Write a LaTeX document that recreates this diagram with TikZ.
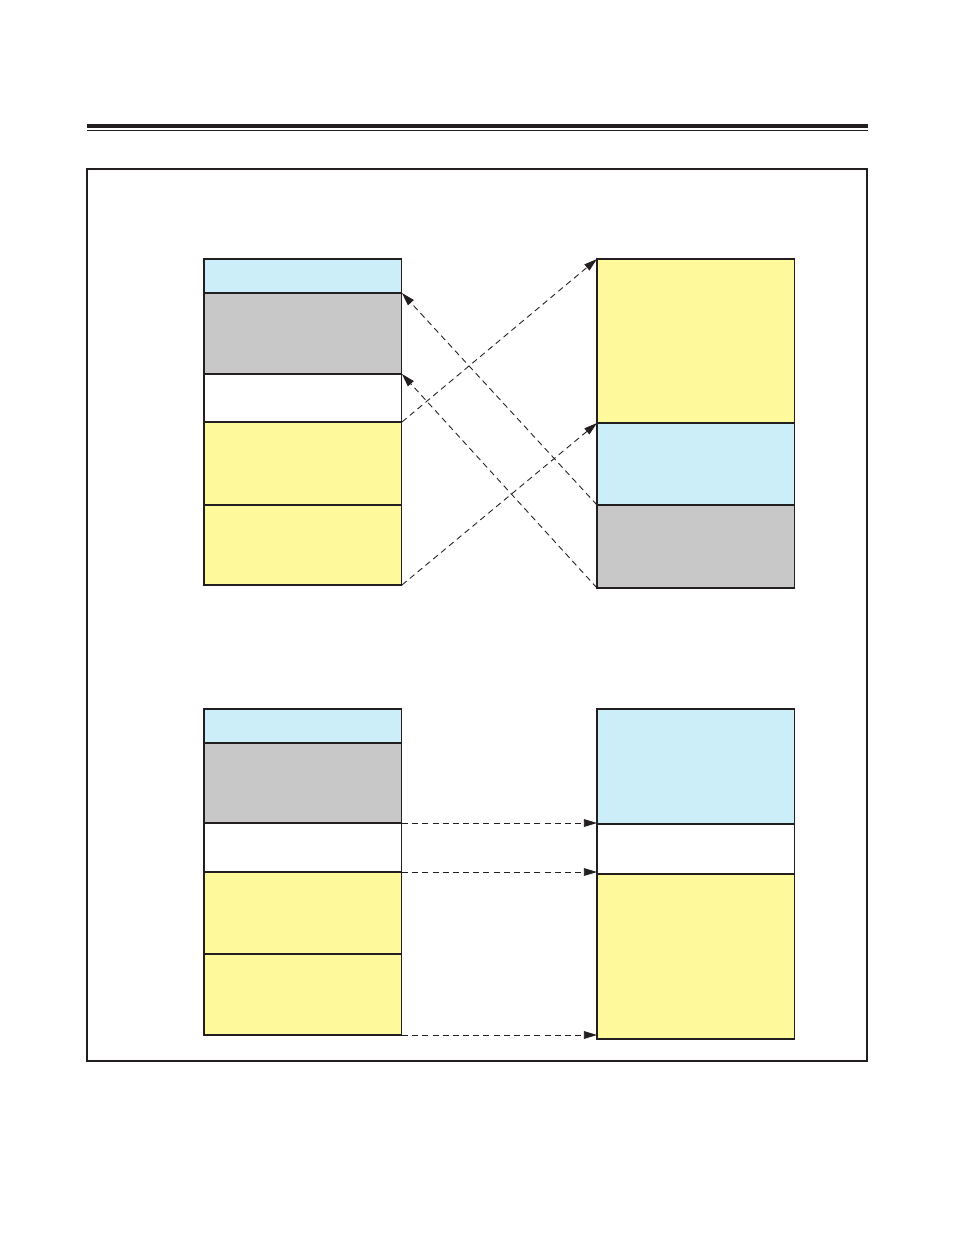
\documentclass[tikz,border=0pt]{standalone}
\usepackage{xcolor}
\usepackage{tikz}
\usetikzlibrary{arrows.meta}
\definecolor{lblue}{HTML}{CCEEF9}
\definecolor{lgrey}{HTML}{C8C8C8}
\definecolor{lyellow}{HTML}{FEF99A}
\definecolor{ink}{HTML}{231F20}

\begin{document}
\begin{tikzpicture}[x=0.02cm,y=-0.02cm,
    blk/.style={draw=ink,line width=0.6pt,anchor=north west,inner sep=0,outer sep=0,minimum width=3.96cm},
    lnk/.style={-{Triangle[length=7.5pt,width=4.4pt]},draw=ink,line width=0.5pt,dash pattern=on 3.4pt off 2.4pt}]
    \useasboundingbox (0,0) rectangle (954,1235);
    % rule at the top
    \draw[ink,line width=2.3pt] (87,126) -- (868,126);
    \draw[ink,line width=1.1pt] (87,130.5) -- (868,130.5);
    \draw[ink,line width=0.6pt] (87,169) rectangle (867,1061);
    % upper pair
    \node[blk,fill=lblue,minimum height=0.68cm] at(204,259)(a1){};
    \node[blk,fill=lgrey,minimum height=1.62cm] at(204,293)(a2){};
    \node[blk,fill=white,minimum height=0.96cm] at(204,374)(a3){};
    \node[blk,fill=lyellow,minimum height=1.66cm] at(204,422)(a4){};
    \node[blk,fill=lyellow,minimum height=1.6cm] at(204,505)(a5){};
    \node[blk,fill=lyellow,minimum height=3.28cm] at(597,259)(b1){};
    \node[blk,fill=lblue,minimum height=1.64cm] at(597,423)(b2){};
    \node[blk,fill=lgrey,minimum height=1.66cm] at(597,505)(b3){};
    \path
        (b3.north west) edge[lnk] (a2.north east)
        (b3.south west) edge[lnk] (a3.north east)
        (a4.north east) edge[lnk] (b1.north west)
        (a5.south east) edge[lnk] (b2.north west);
    % lower pair
    \node[blk,fill=lblue,minimum height=0.68cm] at(204,709)(c1){};
    \node[blk,fill=lgrey,minimum height=1.6cm] at(204,743)(c2){};
    \node[blk,fill=white,minimum height=0.98cm] at(204,823)(c3){};
    \node[blk,fill=lyellow,minimum height=1.64cm] at(204,872)(c4){};
    \node[blk,fill=lyellow,minimum height=1.62cm] at(204,954)(c5){};
    \node[blk,fill=lblue,minimum height=2.3cm] at(597,709)(d1){};
    \node[blk,fill=white,minimum height=1.0cm] at(597,824)(d2){};
    \node[blk,fill=lyellow,minimum height=3.3cm] at(597,874)(d3){};
    \path
        (c3.north east) edge[lnk] (c3.north east -| d2.west)
        (c4.north east) edge[lnk] (c4.north east -| d3.west)
        (c5.south east) edge[lnk] (c5.south east -| d3.west);
\end{tikzpicture}
\end{document}
